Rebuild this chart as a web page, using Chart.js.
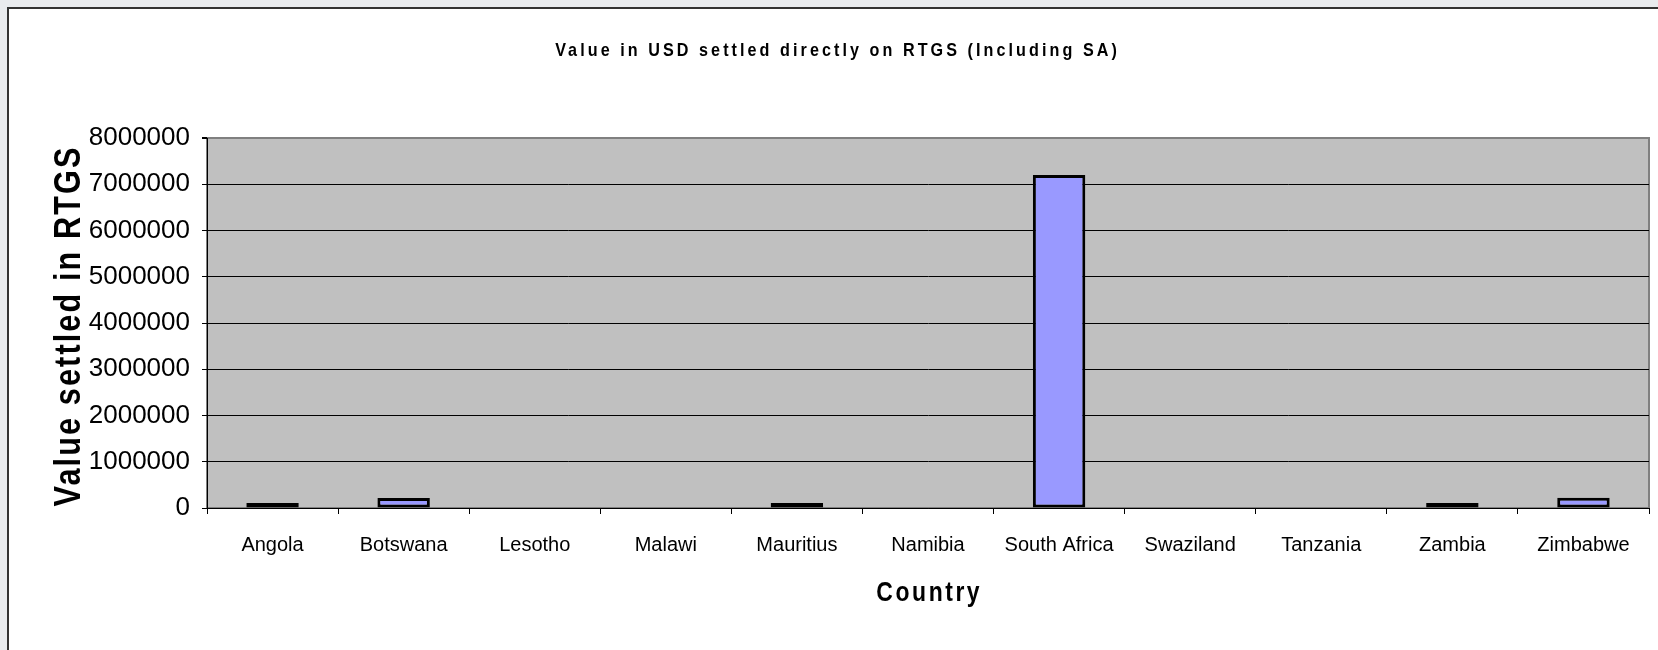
<!DOCTYPE html>
<html>
<head>
<meta charset="utf-8">
<title>Value in USD settled directly on RTGS</title>
<script src="https://cdn.jsdelivr.net/npm/chart.js@4.4.1/dist/chart.umd.min.js"></script>
<style>
    html, body { margin: 0; padding: 0; overflow: hidden; background: #e9ebee; }
    #chartBox { width: 1658px; height: 650px; }
</style>
</head>
<body>
<div id="chartBox"><canvas id="rtgsChart" width="1658" height="650"></canvas></div>
<script>
const countries = ['Angola', 'Botswana', 'Lesotho', 'Malawi', 'Mauritius', 'Namibia',
    'South Africa', 'Swaziland', 'Tanzania', 'Zambia', 'Zimbabwe'];
const valueSettled = [110000, 215000, 0, 0, 110000, 0, 7200000, 0, 0, 110000, 220000];
const yTicks = [0, 1000000, 2000000, 3000000, 4000000, 5000000, 6000000, 7000000, 8000000];

const chartTitle = 'Value in USD settled directly on RTGS (Including SA)';
const yTitle = 'Value settled in RTGS';
const xTitle = 'Country';

const FONT = '"Liberation Sans", Arial, sans-serif';

// white chart sheet, grey plot area with its border
const backdrop = {
    id: 'backdrop',
    beforeDraw(chart) {
        const { ctx, chartArea: a, width, height } = chart;
        ctx.save();
        ctx.fillStyle = '#e9ebee';
        ctx.fillRect(0, 0, width, height);
        ctx.fillStyle = '#ffffff';
        ctx.fillRect(8, 8, width, height);
        ctx.strokeStyle = '#333333';
        ctx.lineWidth = 2;
        ctx.strokeRect(8, 8, width + 20, height + 20);

        ctx.fillStyle = '#c0c0c0';
        ctx.fillRect(a.left, a.top, a.right - a.left, a.bottom - a.top);
        ctx.strokeStyle = '#808080';
        ctx.lineWidth = 2;
        ctx.strokeRect(a.left, a.top, a.right - a.left, a.bottom - a.top);
        ctx.restore();
    }
};

// letter-spaced, slightly condensed titles
function drawSpaced(ctx, text, x, y, font, spacing, angle, squeeze) {
    ctx.save();
    ctx.translate(x, y);
    ctx.rotate(angle || 0);
    ctx.scale(squeeze || 1, 1);
    ctx.font = font;
    ctx.letterSpacing = spacing + 'px';
    ctx.fillStyle = '#000';
    ctx.textAlign = 'center';
    ctx.textBaseline = 'middle';
    ctx.fillText(text, spacing / 2, 0);
    ctx.restore();
}

const titles = {
    id: 'titles',
    afterDraw(chart) {
        const { ctx, chartArea: a } = chart;
        drawSpaced(ctx, chartTitle, 836, 51, 'bold 19px ' + FONT, 3.6, 0, 0.85);
        drawSpaced(ctx, yTitle, 70, 327, 'bold 36px ' + FONT, 2.5, -Math.PI / 2, 0.85);
        drawSpaced(ctx, xTitle, (a.left + a.right) / 2, 594, 'bold 27px ' + FONT, 3, 0, 0.85);
    }
};

new Chart(document.getElementById('rtgsChart'), {
    type: 'bar',
    data: {
        labels: countries,
        datasets: [{
            label: 'Value settled',
            data: valueSettled,
            backgroundColor: '#9999ff',
            borderColor: '#000000',
            borderWidth: 3,
            borderSkipped: false,
            barPercentage: 0.4,
            categoryPercentage: 1.0
        }]
    },
    options: {
        responsive: false,
        animation: false,
        layout: { padding: { left: 0, right: 9, top: 138, bottom: 0 } },
        plugins: {
            legend: { display: false },
            title: { display: false },
            tooltip: { enabled: false }
        },
        scales: {
            x: {
                grid: { offset: true, drawOnChartArea: false, tickColor: '#000', tickLength: 6 },
                border: { color: '#000', width: 1 },
                ticks: { color: '#000', font: { family: FONT, size: 20 }, padding: 19, maxRotation: 0, autoSkip: false },
                afterFit(scale) { scale.height = 142; }
            },
            y: {
                min: 0,
                max: 8000000,
                afterBuildTicks(scale) { scale.ticks = yTicks.map(v => ({ value: v })); },
                grid: {
                    color: c => (c.tick && c.tick.value === 8000000 ? '#808080' : '#000'),
                    lineWidth: c => (c.tick && c.tick.value === 8000000 ? 2 : 1),
                    tickColor: '#000',
                    tickLength: 5
                },
                border: { color: '#000', width: 1 },
                ticks: { color: '#000', font: { family: FONT, size: 26 }, padding: 12, callback: v => String(v) },
                afterFit(scale) { scale.width = 207; }
            }
        }
    },
    plugins: [backdrop, titles]
});
</script>
</body>
</html>
